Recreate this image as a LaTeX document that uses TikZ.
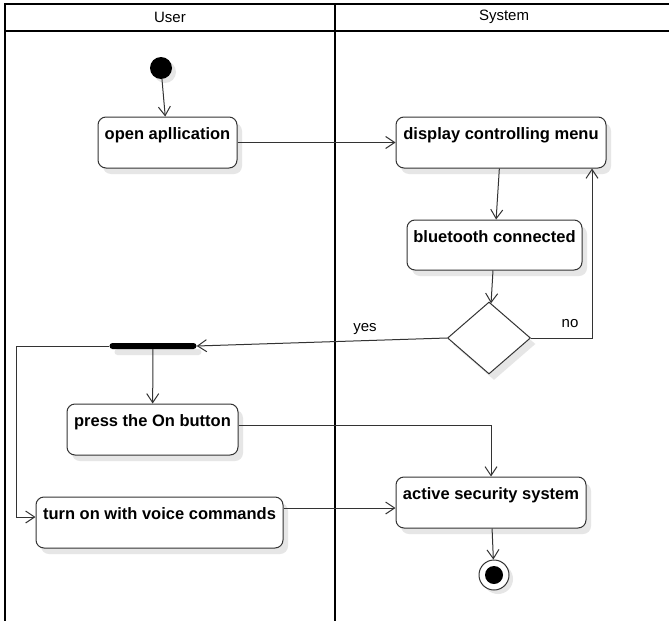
\documentclass[tikz,border=0pt]{standalone}
\usepackage{fontspec}
\setmainfont{Liberation Sans}
\usetikzlibrary{arrows.meta,shapes.geometric,shadows}
\definecolor{ln}{HTML}{333333}
\definecolor{sh}{HTML}{E6E6E6}
\begin{document}
\begin{tikzpicture}[x=1pt,y=-1pt,
  actbox/.style={draw=ln, line width=1pt, rounded corners=8pt, fill=white, inner sep=0pt,
    font=\fontsize{16.5}{19}\selectfont\bfseries, text height=15pt, text depth=21pt,
    drop shadow={shadow xshift=5pt, shadow yshift=-6pt, fill=sh, opacity=1}},
  flow/.style={draw=ln, line width=1pt, -{Straight Barb[length=9pt,width=12pt,line width=1pt]}},
  lane/.style={draw=black, line width=1.6pt},
  lbl/.style={font=\fontsize{15}{17}\selectfont, inner sep=0pt}]
\useasboundingbox (0,0) rectangle (669,621);
\fill[white] (0,0) rectangle (669,621);
% swimlanes
\draw[lane] (669,4) -- (5,4) -- (5,621);
\draw[lane] (5,31) -- (669,31);
\draw[lane] (335,4) -- (335,621);
\node[lbl] (huser) at (170,17) {User};
\node[lbl] (hsys) at (504,17) {System};
% nodes
\node[circle, fill=black, minimum size=22pt, inner sep=0pt,
  drop shadow={shadow xshift=4pt, shadow yshift=-4pt, fill=sh, opacity=1}] (start) at (161,68) {};
\node[actbox, minimum width=139pt, minimum height=51pt] (open) at (167.5,142.5) {open apllication};
\node[actbox, minimum width=210pt, minimum height=51pt] (disp) at (501,142.5) {display controlling menu};
\node[actbox, minimum width=175pt, minimum height=50pt] (bt) at (494.5,245) {bluetooth connected};
\node[diamond, draw=ln, line width=1pt, fill=white, minimum width=83pt, minimum height=72pt, inner sep=0pt,
  drop shadow={shadow xshift=5pt, shadow yshift=-6pt, fill=sh, opacity=1}] (dec) at (489,338) {};
\node[rectangle, rounded corners=3pt, fill=black, minimum width=87pt, minimum height=6pt, inner sep=0pt,
  drop shadow={shadow xshift=5pt, shadow yshift=-6pt, fill=sh, opacity=1}] (bar) at (153,346) {};
\node[actbox, minimum width=171pt, minimum height=51pt] (press) at (152.5,429.5) {press the On button};
\node[actbox, minimum width=247pt, minimum height=51pt] (turn) at (159.5,522.5) {turn on with voice commands};
\node[actbox, minimum width=190pt, minimum height=51pt] (act) at (491,502.5) {active security system};
\node[circle, draw=ln, line width=1pt, fill=white, minimum size=30pt, inner sep=0pt,
  drop shadow={shadow xshift=4pt, shadow yshift=-4pt, fill=sh, opacity=1},
  path picture={\fill[black] (path picture bounding box.center) circle (9pt);}] (end) at (494,575) {};
% connectors
\draw[flow] (start) -- (open);
\draw[flow] (open) -- (disp);
\draw[flow] (disp) -- (bt);
\draw[flow] (bt) -- (dec);
\coordinate (nocorner) at (592,338);
\draw[flow] (dec.east) -- (nocorner) -- (nocorner |- disp.south);
\node[lbl] (nolbl) at (570,324) {no};
\draw[flow] (dec.west) -- (bar.east);
\node[lbl] (yeslbl) at (365,329) {yes};
\draw[flow] (bar) -- (press);
\coordinate (lcorner) at (16,346);
\draw[flow] (bar.west) -- (lcorner) |- ([yshift=5.5pt]turn.west);
\draw[flow] ([yshift=4.5pt]press.east) -| (act.north);
\draw[flow] ([yshift=-5.5pt]act.west -| turn.east) -- ([yshift=-5.5pt]act.west);
\draw[flow] (act) -- (end);
\end{tikzpicture}
\end{document}
